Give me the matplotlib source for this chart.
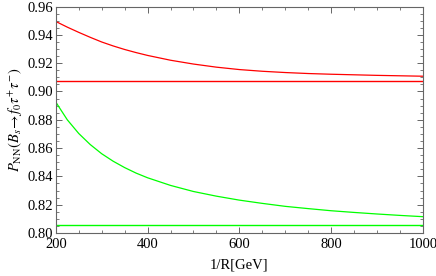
import numpy as np
import matplotlib.pyplot as plt
from matplotlib.ticker import MultipleLocator

plt.rcParams['font.family'] = ['Liberation Serif', 'DejaVu Serif']
plt.rcParams['mathtext.fontset'] = 'stix'

# 1/R in GeV
inv_r = [200, 225, 250, 275, 300, 325, 350, 375, 400, 450, 500, 550, 600,
         650, 700, 750, 800, 850, 900, 950, 1000]

# UED curves
p_red = [0.9495, 0.9455, 0.9418, 0.9383, 0.9350, 0.9322, 0.9297, 0.9275, 0.9255,
         0.9221, 0.9194, 0.9172, 0.9155,
         0.9143, 0.9134, 0.9127, 0.9122, 0.9118, 0.9114, 0.9111, 0.9108]
p_green = [0.8925, 0.8800, 0.8703, 0.8625, 0.8560, 0.8507, 0.8462, 0.8423, 0.8390,
           0.8336, 0.8293, 0.8260, 0.8232,
           0.8209, 0.8188, 0.8172, 0.8157, 0.8145, 0.8134, 0.8124, 0.8115]

# SM values (flat lines)
sm_x = [200, 1000]
sm_red = [0.9072, 0.9072]
sm_green = [0.8053, 0.8053]

fig = plt.figure(figsize=(4.36, 2.76), dpi=100)
ax = fig.add_axes([0.128, 0.156, 0.842, 0.82])

ax.plot(inv_r, p_red, color='#ff0000', lw=0.9)
ax.plot(sm_x, sm_red, color='#ff0000', lw=1.0)
ax.plot(inv_r, p_green, color='#00ff00', lw=0.9)
ax.plot(sm_x, sm_green, color='#00ff00', lw=1.0)

ax.set_xlim(200, 1000)
ax.set_ylim(0.80, 0.96)
ax.xaxis.set_major_locator(MultipleLocator(200))
ax.xaxis.set_minor_locator(MultipleLocator(50))
ax.yaxis.set_major_locator(MultipleLocator(0.02))
ax.yaxis.set_minor_locator(MultipleLocator(0.005))
ax.yaxis.set_major_formatter(plt.FormatStrFormatter('%.2f'))

frame = '#666666'
for s in ax.spines.values():
    s.set_color(frame)
    s.set_linewidth(0.8)
ax.tick_params(which='both', direction='in', top=True, right=True,
               color=frame, labelsize=10.5, labelcolor='black')
ax.tick_params(axis='y', pad=2)
ax.tick_params(axis='x', pad=4)
ax.tick_params(which='major', length=4.5, width=0.7)
ax.tick_params(which='minor', length=2.5, width=0.6)

ax.set_xlabel('1/R[GeV]', fontsize=10.5, labelpad=5)
ax.set_ylabel(r'$P_{\rm NN}(B_s\!\rightarrow f_0\tau^{+}\tau^{-})$', fontsize=10.5, labelpad=2)

fig.savefig('out.png', dpi=100)
